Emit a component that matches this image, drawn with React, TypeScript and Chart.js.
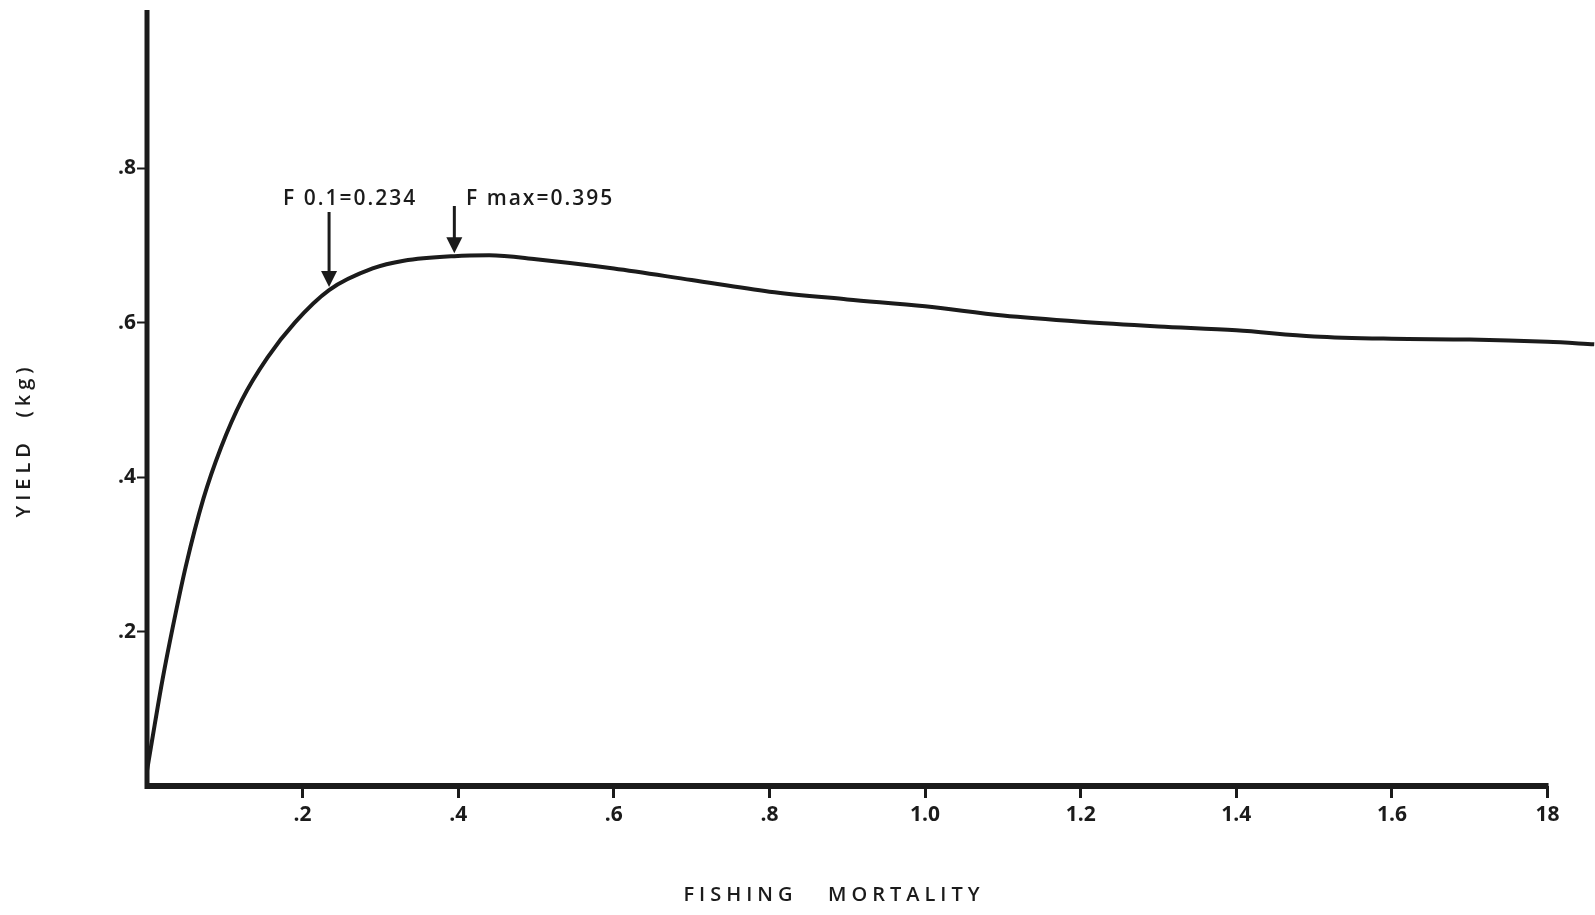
import React, { useEffect, useRef } from "react";
import { Chart, registerables } from "chart.js";

Chart.register(...registerables);

// Yield-per-recruit curve: fishing mortality (F) against yield (kg)
const FISHING_MORTALITY = [
  0.0, 0.01, 0.02, 0.033, 0.05, 0.0725, 0.095, 0.122, 0.155, 0.19, 0.234, 0.29,
  0.33, 0.395, 0.44, 0.5, 0.6, 0.7, 0.8, 0.9, 1.0, 1.1, 1.2, 1.3, 1.4, 1.5, 1.6,
  1.7, 1.8, 1.86,
];
const YIELD_KG = [
  0.02, 0.08, 0.138, 0.205, 0.285, 0.372, 0.438, 0.5, 0.555, 0.6, 0.642, 0.67,
  0.68, 0.686, 0.687, 0.682, 0.67, 0.655, 0.64, 0.63, 0.621, 0.609, 0.601,
  0.595, 0.59, 0.582, 0.579, 0.578, 0.575, 0.572,
];

const X_TICK_VALUES = [0.2, 0.4, 0.6, 0.8, 1.0, 1.2, 1.4, 1.6, 1.8];
const X_TICK_LABELS = [".2", ".4", ".6", ".8", "1.0", "1.2", "1.4", "1.6", "18"];
const Y_TICK_VALUES = [0.2, 0.4, 0.6, 0.8];
const Y_TICK_LABELS = [".2", ".4", ".6", ".8"];

// Reference points marked with arrows
const REFERENCE_F = [0.234, 0.395];
const REFERENCE_LABELS = ["F 0.1=0.234", "F max=0.395"];

const X_TITLE = "FISHING   MORTALITY";
const Y_TITLE = "YIELD  (kg)";

const INK = "#1b1b1b";
const FONT = "'Open Sans', 'Noto Sans', sans-serif";

function yieldAt(f: number): number {
  for (let i = 1; i < FISHING_MORTALITY.length; i++) {
    if (f <= FISHING_MORTALITY[i]) {
      const x0 = FISHING_MORTALITY[i - 1];
      const x1 = FISHING_MORTALITY[i];
      const t = (f - x0) / (x1 - x0);
      return YIELD_KG[i - 1] + t * (YIELD_KG[i] - YIELD_KG[i - 1]);
    }
  }
  return YIELD_KG[YIELD_KG.length - 1];
}

const axesAndNotes = {
  id: "axesAndNotes",
  afterDraw(chart: any) {
    const { ctx, chartArea, scales } = chart;
    const xs = scales.x;
    const ys = scales.y;
    ctx.save();
    ctx.strokeStyle = INK;
    ctx.fillStyle = INK;
    ctx.lineCap = "butt";

    // axis lines
    ctx.lineWidth = 5;
    ctx.beginPath();
    ctx.moveTo(chartArea.left, 10);
    ctx.lineTo(chartArea.left, chartArea.bottom + 3);
    ctx.stroke();
    ctx.lineWidth = 6;
    ctx.beginPath();
    ctx.moveTo(chartArea.left - 2, chartArea.bottom);
    ctx.lineTo(xs.getPixelForValue(1.8) + 1, chartArea.bottom);
    ctx.stroke();

    // arrows pointing at reference F values
    REFERENCE_F.forEach((f, i) => {
      const px = xs.getPixelForValue(f);
      const tip = ys.getPixelForValue(yieldAt(f)) - 3;
      const top = i === 0 ? 212 : 206;
      ctx.lineWidth = 3;
      ctx.beginPath();
      ctx.moveTo(px, top);
      ctx.lineTo(px, tip - 12);
      ctx.stroke();
      ctx.beginPath();
      ctx.moveTo(px - 8, tip - 16);
      ctx.lineTo(px + 8, tip - 16);
      ctx.lineTo(px, tip);
      ctx.closePath();
      ctx.fill();
    });

    ctx.font = `600 21px ${FONT}`;
    ctx.textBaseline = "middle";
    ctx.textAlign = "left";
    (ctx as any).letterSpacing = "2px";
    ctx.fillText(REFERENCE_LABELS[0], 283, 199);
    ctx.fillText(REFERENCE_LABELS[1], 466, 199);

    // axis titles
    ctx.font = `600 20px ${FONT}`;
    (ctx as any).letterSpacing = "5px";
    ctx.textAlign = "center";
    ctx.fillText(X_TITLE, 834, 895);

    ctx.save();
    ctx.translate(24, 440);
    ctx.rotate(-Math.PI / 2);
    (ctx as any).letterSpacing = "5px";
    ctx.fillText(Y_TITLE, 0, 0);
    ctx.restore();

    ctx.restore();
  },
};

export default function App() {
  const canvasRef = useRef<HTMLCanvasElement | null>(null);

  useEffect(() => {
    const canvas = canvasRef.current;
    if (!canvas) return;
    const points = FISHING_MORTALITY.map((f, i) => ({ x: f, y: YIELD_KG[i] }));

    const chart = new Chart(canvas, {
      type: "line",
      data: {
        datasets: [
          {
            data: points,
            borderColor: INK,
            borderWidth: 4,
            pointRadius: 0,
            cubicInterpolationMode: "monotone",
            fill: false,
          },
        ],
      },
      options: {
        animation: false,
        responsive: false,
        maintainAspectRatio: false,
        layout: { padding: { top: 8, right: 0, left: 0, bottom: 0 } },
        plugins: {
          legend: { display: false },
          tooltip: { enabled: false },
          title: { display: false },
        },
        scales: {
          x: {
            type: "linear",
            min: 0,
            max: 1.861,
            border: { display: false },
            grid: {
              drawOnChartArea: false,
              drawTicks: true,
              tickLength: 12,
              tickWidth: 3,
              tickColor: INK,
            },
            afterBuildTicks: (scale: any) => {
              scale.ticks = X_TICK_VALUES.map((v) => ({ value: v }));
            },
            afterFit: (scale: any) => {
              scale.height = 915 - 786;
            },
            ticks: {
              autoSkip: false,
              maxRotation: 0,
              padding: 4,
              color: INK,
              font: { family: FONT, size: 21, weight: "bold" },
              callback: (_v: any, i: number) => X_TICK_LABELS[i],
            },
          },
          y: {
            type: "linear",
            min: 0,
            max: 1.0,
            border: { display: false },
            grid: {
              drawOnChartArea: false,
              drawTicks: true,
              tickLength: 10,
              tickWidth: 2,
              tickColor: INK,
            },
            afterBuildTicks: (scale: any) => {
              scale.ticks = Y_TICK_VALUES.map((v) => ({ value: v }));
            },
            afterFit: (scale: any) => {
              scale.width = 147;
            },
            ticks: {
              padding: 1,
              color: INK,
              font: { family: FONT, size: 21, weight: "bold" },
              callback: (_v: any, i: number) => Y_TICK_LABELS[i],
            },
          },
        },
      },
      plugins: [axesAndNotes],
    });

    return () => chart.destroy();
  }, []);

  return (
    <div style={{ position: "absolute", left: 0, top: 0, width: 1595, height: 915, background: "#fff" }}>
      <canvas ref={canvasRef} width={1595} height={915} style={{ display: "block" }} />
    </div>
  );
}
